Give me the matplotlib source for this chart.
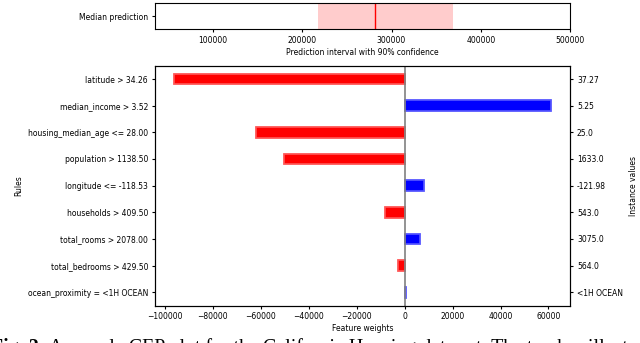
import numpy as np
import matplotlib.pyplot as plt

# rules, weights and instance values (top to bottom)
rules = ["latitude > 34.26", "median_income > 3.52", "housing_median_age <= 28.00",
         "population > 1138.50", "longitude <= -118.53", "households > 409.50",
         "total_rooms > 2078.00", "total_bedrooms > 429.50", "ocean_proximity = <1H OCEAN"]
weights = [-96200, 61100, -61900, -50200, 8000, -8200, 6500, -2600, 400]
instance_vals = ["37.27", "5.25", "25.0", "1633.0", "-121.98", "543.0", "3075.0", "564.0", "<1H OCEAN"]

median_pred = 281400
interval_lo = 217600
interval_hi = 368700
top_xlim = (35000, 500000)

plt.rcParams['font.size'] = 5.5
plt.rcParams['xtick.major.size'] = 2.5
plt.rcParams['ytick.major.size'] = 2.5
plt.rcParams['xtick.major.pad'] = 2.5
plt.rcParams['ytick.major.pad'] = 2.5

fig = plt.figure(figsize=(6.4, 3.43), dpi=100)
W, H = 640, 343

def px_axes(l, t, r, b):
    return fig.add_axes([l / W, 1 - b / H, (r - l) / W, (b - t) / H])

# top: prediction interval
ax0 = px_axes(155, 3, 570, 29)
ax0.axvspan(interval_lo, interval_hi, color='red', alpha=0.2, lw=0)
ax0.axvline(median_pred, color='red', lw=1)
ax0.set_xlim(*top_xlim)
ax0.set_yticks([0.5])
ax0.set_yticklabels(["Median prediction"])
ax0.set_ylim(0, 1)
ax0.set_xticks([100000, 200000, 300000, 400000, 500000])
ax0.set_xlabel("Prediction interval with 90% confidence", labelpad=2)

# main: feature weights
ax = px_axes(155, 65.7, 570, 305.5)
n = len(rules)
ypos = np.arange(n)[::-1]
colors = ['red' if w < 0 else 'blue' for w in weights]
for y, w, c in zip(ypos, weights, colors):
    ax.barh(y, w, height=0.4, color=c, edgecolor=c, linewidth=1.2, alpha=1)
    ax.barh(y, w, height=0.4, color=c, edgecolor='white', linewidth=1.2, alpha=0.35, fill=False)
ax.axvline(0, color='gray', lw=1.2)
ax.set_ylim(-0.5, n - 0.5)
ax.set_yticks(ypos)
ax.set_yticklabels(rules)
ax.set_ylabel("Rules", labelpad=3)
ax.set_xlabel("Feature weights", labelpad=2)
ax.set_xticks(np.arange(-100000, 60001, 20000))
ax.set_xticklabels([f"\u2212{abs(v)}" if v < 0 else str(v) for v in range(-100000, 60001, 20000)])

ax2 = ax.twinx()
ax2.set_ylim(-0.5, n - 0.5)
ax2.set_yticks(ypos)
ax2.set_yticklabels(instance_vals)
ax2.set_ylabel("Instance values", labelpad=4)

# paper caption, cut off by the bottom edge
serif = ['Liberation Serif', 'DejaVu Serif']
cap_y = 1 - 353 / H
t1 = fig.text(-9 / W, cap_y, "Fig. 2:", family=serif, fontsize=14.3, fontweight='bold', va='baseline')
fig.canvas.draw()
bb = t1.get_window_extent(fig.canvas.get_renderer())
fig.text(bb.x1 / W, cap_y, " A sample CEP plot for the California Housing data set. The top bar illustrates",
         family=serif, fontsize=14.3, va='baseline')

fig.savefig("out.png", dpi=100)
